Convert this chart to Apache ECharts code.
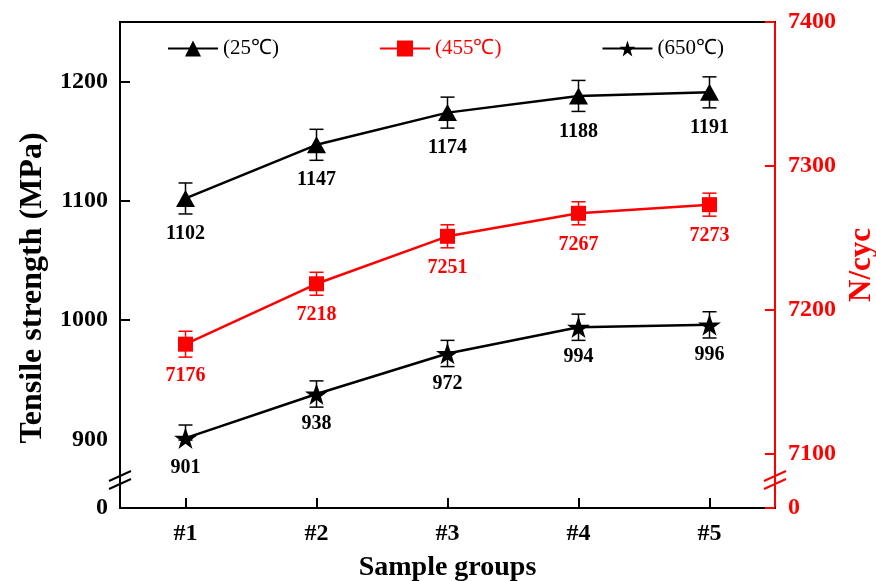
<!DOCTYPE html>
<html>
<head>
<meta charset="utf-8">
<script src="https://cdn.jsdelivr.net/npm/echarts@6/dist/echarts.min.js"></script>
<style>
  html, body { margin: 0; padding: 0; background: #fff; }
  #main { width: 876px; height: 581px; }
</style>
</head>
<body>
<div id="main"></div>
<script>
// sample groups
var categories = ['#1', '#2', '#3', '#4', '#5'];
// tensile strength, MPa (left axis)
var strength25 = [1102, 1147, 1174, 1188, 1191];
var strength650 = [901, 938, 972, 994, 996];
// N/cyc (right axis)
var cycles455 = [7176, 7218, 7251, 7267, 7273];
// error bar half lengths
var err25 = [13, 13, 13, 13, 13];
var err650 = [11, 11, 11, 11, 11];
var err455 = [9, 8, 8, 8, 8];

var FONT = 'Liberation Serif';
var RED = '#ff0000';
var STAR = 'path://M50,0 L61.8,35.1 L98.1,35.1 L68.8,56.7 L79.4,90.9 L50,69.1 L20.6,90.9 L31.2,56.7 L1.9,35.1 L38.2,35.1 Z';

var chartDom = document.getElementById('main');
var myChart = echarts.init(chartDom);

function barData(vals, errs) {
  return vals.map(function (v, i) { return [i, v + errs[i], v - errs[i]]; });
}

function errorBar(color) {
  return function (params, api) {
    var hi = api.coord([api.value(0), api.value(1)]);
    var lo = api.coord([api.value(0), api.value(2)]);
    var w = 7;
    var style = { stroke: color, lineWidth: 1.5 };
    return {
      type: 'group',
      children: [
        { type: 'line', shape: { x1: hi[0], y1: hi[1], x2: lo[0], y2: lo[1] }, style: style },
        { type: 'line', shape: { x1: hi[0] - w, y1: hi[1], x2: hi[0] + w, y2: hi[1] }, style: style },
        { type: 'line', shape: { x1: lo[0] - w, y1: lo[1], x2: lo[0] + w, y2: lo[1] }, style: style }
      ]
    };
  };
}

function valueLabel(color, dist) {
  return {
    show: true,
    position: 'bottom',
    distance: dist,
    color: color,
    fontFamily: FONT,
    fontWeight: 'bold',
    fontSize: 20
  };
}

function plain(v) { return String(v); }

// plain frame lines (no break) drawn by extra axes without labels
function frameAxis(pos, color) {
  return {
    type: 'value', position: pos, min: 0, max: 1,
    axisLine: { show: true, onZero: false, lineStyle: { color: color, width: 2 } },
    axisTick: { show: false }, axisLabel: { show: false }, splitLine: { show: false }
  };
}

var option = {
  animation: false,
  backgroundColor: '#fff',
  grid: {
    left: 120,
    right: 101,
    top: 22,
    bottom: 73,
    outerBoundsMode: 'none',
    containLabel: false
  },
  legend: {
    data: [
      { name: '(25℃)' },
      { name: '(455℃)', textStyle: { color: RED } },
      { name: '(650℃)' }
    ],
    left: 162,
    top: 33,
    itemGap: 100,
    itemWidth: 50,
    itemHeight: 20,
    textStyle: { fontFamily: FONT, fontSize: 21, color: '#000' }
  },
  xAxis: [
    {
      type: 'category',
      position: 'bottom',
      data: categories,
      boundaryGap: true,
      name: 'Sample groups',
      nameLocation: 'middle',
      nameGap: 46,
      nameTextStyle: { fontFamily: FONT, fontWeight: 'bold', fontSize: 28, color: '#000' },
      axisLine: { lineStyle: { color: '#000', width: 2 } },
      axisTick: { show: true, inside: true, alignWithLabel: true, length: 10, lineStyle: { width: 2 } },
      axisLabel: { margin: 14, fontFamily: FONT, fontWeight: 'bold', fontSize: 24, color: '#000' }
    },
    {
      type: 'value', position: 'top', min: 0, max: 1,
      axisLine: { show: true, onZero: false, lineStyle: { color: '#000', width: 2 } },
      axisTick: { show: false }, axisLabel: { show: false }, splitLine: { show: false }
    }
  ],
  yAxis: [
    {
      type: 'value',
      position: 'left',
      min: 0,
      max: 1250,
      interval: 100,
      breaks: [{ start: 0, end: 900, gap: 57.6 }],
      breakArea: { show: false },
      name: 'Tensile strength (MPa)',
      nameLocation: 'middle',
      nameRotate: 90,
      nameGap: 70,
      nameTextStyle: {
        fontFamily: FONT, fontWeight: 'bold', fontSize: 32, color: '#000',
        padding: [0, 46, 0, 0]
      },
      axisLine: { show: true, onZero: false, lineStyle: { color: '#000', width: 2 } },
      axisTick: { show: false },
      // inward ticks: only the first 10px of each split line is drawn
      splitLine: { show: true, lineStyle: { color: '#000', width: 2, type: [10, 2000] } },
      axisLabel: { margin: 12, showMaxLabel: false, formatter: plain, fontFamily: FONT, fontWeight: 'bold', fontSize: 24, color: '#000' }
    },
    {
      type: 'value',
      position: 'right',
      min: 0,
      max: 7400,
      interval: 100,
      breaks: [{ start: 0, end: 7100, gap: 37.9 }],
      breakArea: { show: false },
      name: 'N/cyc',
      nameLocation: 'middle',
      nameRotate: 90,
      nameGap: 69,
      nameTextStyle: { fontFamily: FONT, fontWeight: 'bold', fontSize: 31, color: RED },
      axisLine: { show: true, onZero: false, lineStyle: { color: RED, width: 2 } },
      axisTick: { show: true, inside: true, length: 10, lineStyle: { width: 2 } },
      axisLabel: { margin: 13, formatter: plain, fontFamily: FONT, fontWeight: 'bold', fontSize: 24, color: RED },
      splitLine: { show: false }
    },
    frameAxis('left', '#000'),
    frameAxis('right', RED)
  ],
  series: [
    {
      type: 'custom', name: 'err25', yAxisIndex: 0, z: 1,
      renderItem: errorBar('#000'), data: barData(strength25, err25)
    },
    {
      type: 'custom', name: 'err455', yAxisIndex: 1, z: 1,
      renderItem: errorBar(RED), data: barData(cycles455, err455)
    },
    {
      type: 'custom', name: 'err650', yAxisIndex: 0, z: 1,
      renderItem: errorBar('#000'), data: barData(strength650, err650)
    },
    {
      name: '(25℃)', type: 'line', yAxisIndex: 0, z: 3,
      data: strength25,
      symbol: 'triangle', symbolSize: [19, 17],
      itemStyle: { color: '#000' },
      lineStyle: { color: '#000', width: 2.5 },
      label: valueLabel('#000', 17)
    },
    {
      name: '(455℃)', type: 'line', yAxisIndex: 1, z: 3,
      data: cycles455,
      symbol: 'rect', symbolSize: 15,
      itemStyle: { color: RED },
      lineStyle: { color: RED, width: 2.5 },
      label: valueLabel(RED, 14)
    },
    {
      name: '(650℃)', type: 'line', yAxisIndex: 0, z: 3,
      data: strength650,
      symbol: STAR, symbolSize: 23, symbolKeepAspect: true,
      itemStyle: { color: '#000' },
      lineStyle: { color: '#000', width: 2.5 },
      label: valueLabel('#000', 9)
    }
  ]
};

myChart.setOption(option);

// "//" break marks on both value axes
function breakMarks(x, y, color) {
  var s = { stroke: color, lineWidth: 2 };
  return [
    { type: 'line', shape: { x1: x - 11, y1: y + 1, x2: x + 11, y2: y - 9 }, style: s, z: 10 },
    { type: 'line', shape: { x1: x - 11, y1: y + 9, x2: x + 11, y2: y - 1 }, style: s, z: 10 }
  ];
}
var yZero = myChart.convertToPixel({ yAxisIndex: 0 }, 0);
var leftX = 120, rightX = 876 - 101;
myChart.setOption({
  graphic: breakMarks(leftX, yZero - 28, '#000').concat(breakMarks(rightX, yZero - 28, RED))
});
</script>
</body>
</html>
